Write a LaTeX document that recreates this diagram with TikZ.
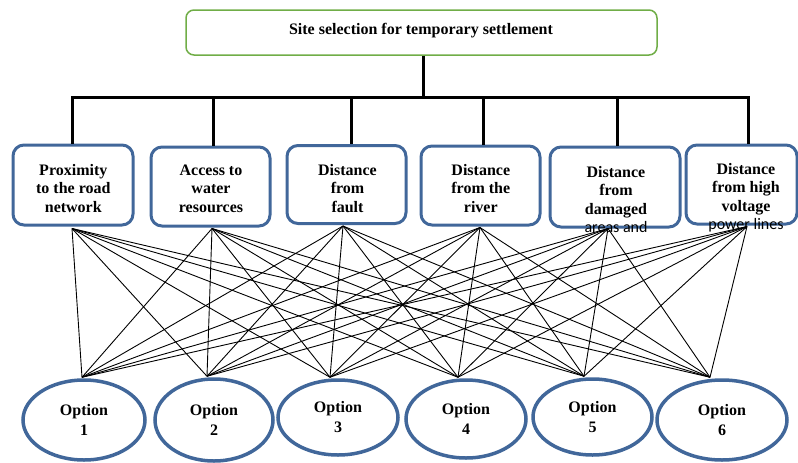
\documentclass[tikz,border=0pt]{standalone}
\usepackage{fontspec}
\setmainfont{Liberation Serif}
\newfontfamily\carlito{Carlito}
\usetikzlibrary{shapes.geometric}
\definecolor{boxblue}{HTML}{41679A}
\definecolor{topgreen}{HTML}{70AD47}
\tikzset{
  topbox/.style={draw=topgreen, line width=1.5pt, rounded corners=8pt, inner sep=0pt},
  critbox/.style={draw=boxblue, line width=3pt, rounded corners=11pt, inner sep=0pt},
  optnode/.style={ellipse, draw=boxblue, line width=3.5pt, inner sep=0pt, align=center,
    font=\fontsize{16}{20}\selectfont\bfseries},
  lbl/.style={align=center, inner sep=0pt, font=\fontsize{16}{18.5}\selectfont\bfseries},
  trunk/.style={line width=3pt, black},
  link/.style={line width=0.9pt, black},
}
\begin{document}
\begin{tikzpicture}[x=1pt, y=-1pt]
\useasboundingbox (0,0) rectangle (798,463);
% top
\node[topbox, minimum width=471pt, minimum height=45pt] (top) at (421.5,32.5) {};
\node[lbl] (toptxt) at (421,31) {Site selection for temporary settlement};
% criteria boxes
\node[critbox, minimum width=120pt, minimum height=80pt] (b1) at (73,185) {};
\node[critbox, minimum width=119pt, minimum height=79pt] (b2) at (210.5,186.5) {};
\node[critbox, minimum width=119pt, minimum height=78pt] (b3) at (346.5,184.5) {};
\node[critbox, minimum width=119pt, minimum height=79pt] (b4) at (480.5,185.5) {};
\node[critbox, minimum width=130pt, minimum height=80pt] (b5) at (615,187) {};
\node[critbox, minimum width=111pt, minimum height=79pt] (b6) at (741.5,184.5) {};
\node[lbl] (t1) at (73.3,188.5) {Proximity\\to the road\\network};
\node[lbl] (t2) at (211,188.5) {Access to\\water\\resources};
\node[lbl] (t3) at (347.5,188.5) {Distance\\from\\fault};
\node[lbl] (t4) at (480.8,188.5) {Distance\\from the\\river};
\node[lbl] (t5) at (616,199.5) {Distance\\from\\damaged\\{\carlito\mdseries areas and}};
\node[lbl] (t6) at (746,197.5) {Distance\\from high\\voltage\\{\carlito\mdseries power lines}};
% options
\node[optnode, minimum width=122pt, minimum height=80pt] (o1) at (84,420) {Option\\1};
\node[optnode, minimum width=118pt, minimum height=82pt] (o2) at (214,420) {Option\\2};
\node[optnode, minimum width=120pt, minimum height=75pt] (o3) at (338,417.5) {Option\\3};
\node[optnode, minimum width=120pt, minimum height=78pt] (o4) at (466,419) {Option\\4};
\node[optnode, minimum width=119pt, minimum height=76pt] (o5) at (592.5,417) {Option\\5};
\node[optnode, minimum width=130pt, minimum height=80pt] (o6) at (722,420) {Option\\6};
% hierarchy
\coordinate (j) at (423,97);
\draw[trunk] (top.south -| j) -- (j);
\draw[trunk] ([xshift=-1pt]b1.north) |- ([xshift=6.5pt]b6.north |- j) -- ([xshift=6.5pt]b6.north);
\draw[trunk] ([xshift=2.5pt]b2.north) -- ([xshift=2.5pt]b2.north |- j);
\draw[trunk] ([xshift=4.5pt]b3.north) -- ([xshift=4.5pt]b3.north |- j);
\draw[trunk] ([xshift=2.5pt]b4.north) -- ([xshift=2.5pt]b4.north |- j);
\draw[trunk] ([xshift=2pt]b5.north) -- ([xshift=2pt]b5.north |- j);
% link points
\coordinate (p1) at ([xshift=-1pt,yshift=-2pt]b1.south);
\coordinate (p2) at ([xshift=1.5pt,yshift=-1pt]b2.south);
\coordinate (p3) at ([xshift=-3.5pt,yshift=-1pt]b3.south);
\coordinate (p4) at ([xshift=-0.5pt,yshift=-1pt]b4.south);
\coordinate (p5) at ([xshift=-7pt,yshift=0pt]b5.south);
\coordinate (p6) at ([xshift=5.5pt,yshift=-1pt]b6.south);
\coordinate (q1) at ([xshift=-2pt,yshift=1pt]o1.north);
\coordinate (q2) at ([xshift=-7pt,yshift=1pt]o2.north);
\coordinate (q3) at ([xshift=-8pt,yshift=1pt]o3.north);
\coordinate (q4) at ([xshift=-8pt,yshift=1pt]o4.north);
\coordinate (q5) at ([xshift=-8.5pt,yshift=1pt]o5.north);
\coordinate (q6) at ([xshift=-12pt,yshift=1pt]o6.north);
\foreach \i in {1,...,6}{
  \foreach \k in {1,...,6}{
    \draw[link] (p\i) -- (q\k);
  }
}
\end{tikzpicture}
\end{document}
